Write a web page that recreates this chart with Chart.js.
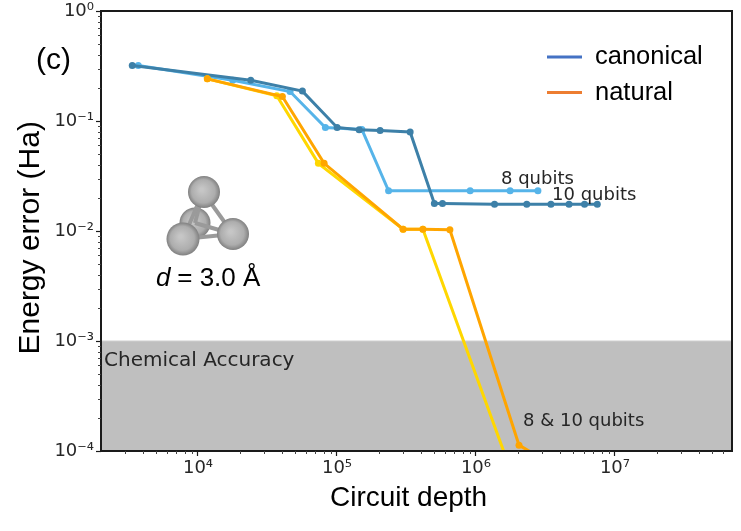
<!DOCTYPE html>
<html>
<head>
<meta charset="utf-8">
<style>html,body{margin:0;padding:0;background:#fff}canvas{display:block}</style>
<script src="https://cdn.jsdelivr.net/npm/chart.js@4"></script>
</head>
<body>
<div style="width:741px;height:531px"><canvas id="c" width="741" height="531"></canvas></div>
<script>
const canonical10x = [3365, 23950, 56360, 100200, 144300, 204300, 336000, 501800, 574000, 1360000, 2320000, 3460000, 4670000, 6040000, 7460000];
const canonical10y = [0.319, 0.235, 0.187, 0.0874, 0.0833, 0.082, 0.0794, 0.01776, 0.01776, 0.0175, 0.0175, 0.0175, 0.0175, 0.0175, 0.0175];
const canonical8x = [3717, 17780, 45950, 82500, 151000, 235000, 908000, 1760000, 2790000];
const canonical8y = [0.319, 0.235, 0.1854, 0.0874, 0.0838, 0.0232, 0.0232, 0.0232, 0.0232];
const natural10x = [11670, 40450, 80800, 299000, 415000, 649000, 2040000, 3150000];
const natural10y = [0.2417, 0.167, 0.0412, 0.01038, 0.01038, 0.01026, 0.000113, 0.0000818];
const natural8x = [11670, 36900, 73500, 299000, 415000, 1760000];
const natural8y = [0.2417, 0.1695, 0.0412, 0.01038, 0.01038, 0.0000687];
const xRange = [2005, 69500000];
const yRange = [0.0001, 1];
const chemicalAccuracy = 0.001;
const xTickValues = [1e4, 1e5, 1e6, 1e7];
const yTickValues = [1e-4, 1e-3, 1e-2, 1e-1, 1];
const minorMultipliers = [2, 3, 4, 5, 6, 7, 8, 9];
const sup = {'-':'⁻','0':'⁰','1':'¹','2':'²','3':'³','4':'⁴','5':'⁵','6':'⁶','7':'⁷','8':'⁸','9':'⁹'};
const tickLabel = v => '10' + String(Math.round(Math.log10(v))).split('').map(c => sup[c]).join('');
const zip = (xs, ys) => xs.map((x, i) => ({x, y: ys[i]}));
const series = (label, xs, ys, color, order) => ({label, data: zip(xs, ys), borderColor: color, backgroundColor: color,
  borderWidth: 3, pointRadius: 3.5, pointHoverRadius: 3.5, pointBorderWidth: 0, tension: 0, fill: false, order});
const AX = '#1a1a1a', TXT = '#262626';
const sans = '"Liberation Sans", Arial, sans-serif', dv = '"DejaVu Sans", sans-serif';

const decor = {
  id: 'decor',
  afterDatasetsDraw(chart) {
    const {ctx, chartArea: a, scales: {x, y}} = chart;
    ctx.save();
    // frame
    ctx.strokeStyle = AX; ctx.lineWidth = 2;
    ctx.strokeRect(a.left, a.top, a.right - a.left, a.bottom - a.top);
    // minor ticks
    ctx.lineWidth = 1; ctx.strokeStyle = '#444';
    ctx.beginPath();
    for (let e = 3; e <= 7; e++) for (const m of minorMultipliers) {
      const v = m * Math.pow(10, e);
      if (v < xRange[0] || v > xRange[1]) continue;
      const p = Math.round(x.getPixelForValue(v)) + .5;
      ctx.moveTo(p, a.bottom); ctx.lineTo(p, a.bottom + 3);
    }
    for (let e = -4; e < 0; e++) for (const m of minorMultipliers) {
      const p = Math.round(y.getPixelForValue(m * Math.pow(10, e))) + .5;
      ctx.moveTo(a.left, p); ctx.lineTo(a.left - 3, p);
    }
    ctx.stroke();
    // axis titles
    ctx.fillStyle = '#000'; ctx.textBaseline = 'alphabetic'; ctx.textAlign = 'left';
    ctx.font = '28px ' + sans;
    ctx.fillText('Circuit depth', 330, 506);
    ctx.save();
    ctx.translate(39, 354.5); ctx.rotate(-Math.PI / 2);
    ctx.font = '30px ' + sans;
    ctx.fillText('Energy error (Ha)', 0, 0);
    ctx.restore();
    // annotations
    ctx.fillStyle = TXT;
    ctx.font = '18px ' + dv;
    ctx.fillText('8 qubits', 501, 184);
    ctx.fillText('10 qubits', 552, 200);
    ctx.fillText('8 & 10 qubits', 523, 426);
    ctx.font = '20px ' + dv;
    ctx.fillText('Chemical Accuracy', 104, 365.5);
    // panel letter
    ctx.fillStyle = '#000';
    ctx.font = '30px ' + sans;
    ctx.fillText('(c)', 36, 69);
    // legend
    ctx.lineWidth = 3;
    ctx.strokeStyle = '#4472c4';
    ctx.beginPath(); ctx.moveTo(547, 57); ctx.lineTo(582, 57); ctx.stroke();
    ctx.strokeStyle = '#ed7d31';
    ctx.beginPath(); ctx.moveTo(547, 92.5); ctx.lineTo(582, 92.5); ctx.stroke();
    ctx.font = '25.5px ' + sans;
    ctx.fillText('canonical', 595, 64);
    ctx.fillText('natural', 595, 100);
    // molecule
    const bond = (x1, y1, x2, y2, w) => {
      ctx.strokeStyle = '#9a9a9a'; ctx.lineWidth = w;
      ctx.beginPath(); ctx.moveTo(x1, y1); ctx.lineTo(x2, y2); ctx.stroke();
    };
    const ball = (cx, cy, r) => {
      const g = ctx.createRadialGradient(cx - r * .15, cy - r * .15, r * .1, cx, cy, r);
      g.addColorStop(0, '#c6c6c6'); g.addColorStop(.7, '#adadad'); g.addColorStop(1, '#808080');
      ctx.fillStyle = g;
      ctx.beginPath(); ctx.arc(cx, cy, r, 0, Math.PI * 2); ctx.fill();
    };
    ball(195, 223, 15.5);
    bond(203, 192, 195, 223, 4);
    bond(203, 192, 233, 234, 4);
    bond(195, 223, 233, 234, 4);
    bond(183, 239, 233, 234, 4);
    bond(203, 192, 183, 239, 4);
    ball(204, 192, 16);
    ball(233, 234, 16);
    ball(183, 239, 16.5);
    ctx.fillStyle = '#000';
    ctx.font = 'italic 26px ' + sans;
    ctx.fillText('d', 156, 286);
    ctx.font = '26px ' + sans;
    ctx.fillText(' = 3.0 Å', 170, 286);
    ctx.restore();
  }
};

new Chart(document.getElementById('c'), {
  type: 'line',
  plugins: [decor],
  data: {
    datasets: [
      series('natural 10 qubits', natural10x, natural10y, '#ffa500', 1),
      series('natural 8 qubits', natural8x, natural8y, '#ffd700', 2),
      series('canonical 10 qubits', canonical10x, canonical10y, '#3d80a8', 3),
      series('canonical 8 qubits', canonical8x, canonical8y, '#56b4e9', 4),
      {label: 'Chemical Accuracy', data: zip(xRange, [chemicalAccuracy, chemicalAccuracy]), borderColor: '#cfcfcf', borderWidth: 1,
       backgroundColor: '#bfbfbf', pointRadius: 0, fill: 'start', order: 5}
    ]
  },
  options: {
    responsive: false,
    animation: false,
    events: [],
    layout: {padding: {top: 10, right: 9, left: 0, bottom: 0}},
    plugins: {legend: {display: false}, tooltip: {enabled: false}},
    scales: {
      x: {
        type: 'logarithmic', min: xRange[0], max: xRange[1],
        afterBuildTicks: s => { s.ticks = xTickValues.map(value => ({value, major: true})); },
        afterFit: s => { s.height = 80; },
        grid: {drawOnChartArea: false, drawTicks: true, tickLength: 5, color: AX, tickColor: AX, tickWidth: 1.2},
        border: {display: false},
        ticks: {autoSkip: false, maxRotation: 0, padding: 3, color: TXT, font: {family: dv, size: 18, lineHeight: 1}, callback: v => tickLabel(v)},
        title: {display: false}
      },
      y: {
        type: 'logarithmic', min: yRange[0], max: yRange[1],
        afterBuildTicks: s => { s.ticks = yTickValues.map(value => ({value, major: true})); },
        afterFit: s => { s.width = 101; },
        grid: {drawOnChartArea: false, drawTicks: true, tickLength: 5, color: AX, tickColor: AX, tickWidth: 1.2},
        border: {display: false},
        ticks: {autoSkip: false, padding: 2, color: TXT, font: {family: dv, size: 18, lineHeight: 1}, callback: v => tickLabel(v)},
        title: {display: false}
      }
    }
  }
});
</script>
</body>
</html>
